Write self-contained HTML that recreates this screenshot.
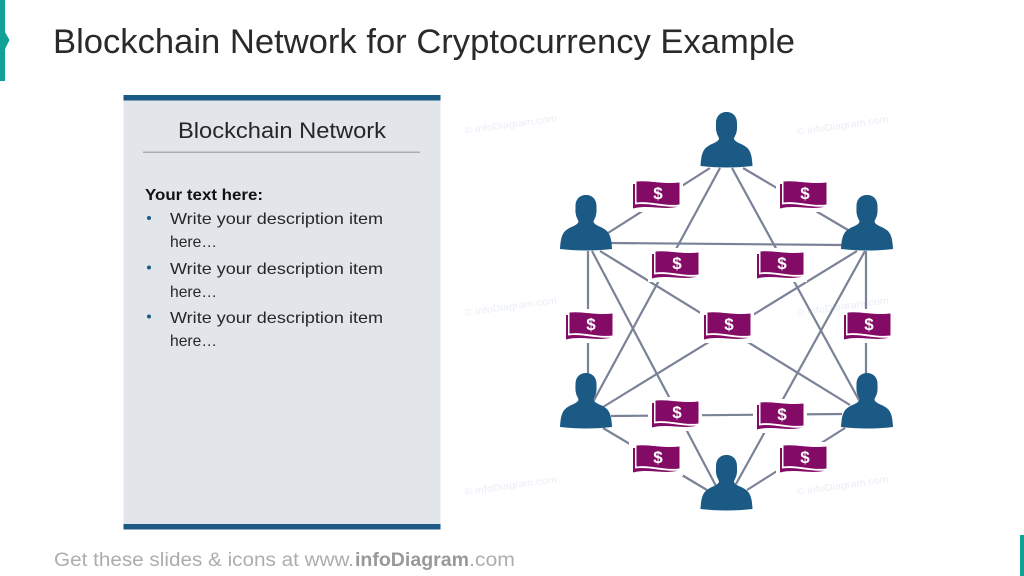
<!DOCTYPE html>
<html><head><meta charset="utf-8">
<style>
html,body{margin:0;padding:0;background:#fff}
svg{display:block}
text{font-family:"Liberation Sans",sans-serif}
</style></head>
<body>
<svg width="1024" height="576" viewBox="0 0 1024 576" xmlns="http://www.w3.org/2000/svg">
<defs>
<path id="p" d="M0 54 C0.500 45 1.500 38 7 34.500 C11 31.500 17 30.500 18.500 27 C18.500 25 16.500 23 16 20 C15.200 17 15.500 15 15.500 11 C15.500 4 20 0 26 0 C32 0 36.500 4 36.500 11 C36.500 15 36.800 17 36 20 C35.500 23 33.500 25 33.500 27 C35 30.500 41 31.500 45 34.500 C50.500 38 51.500 45 52 54 C35 56 17 56 0 54 Z" fill="#1b5a84"/>
<g id="b">
<rect x="-4" y="-3" width="54" height="34" fill="#fff"/>
<path d="M3.500 0.500 C16 -1 30 3.500 46.500 1.500 L46.500 23.500 C31 25.500 17 19.500 3.500 21.500 Z" fill="#830b66"/>
<path d="M0 3 L2 3 L2 23.500 C16 21.500 30 27 45 25.500 C31 29.500 16 23.500 0 27.500 Z" fill="#830b66"/>
<text x="25" y="18" font-size="17" font-weight="bold" fill="#fff" text-anchor="middle">$</text>
</g>
</defs>

<rect width="1024" height="576" fill="#fff"/>
<rect x="0" y="0" width="5" height="81" fill="#12a195"/>
<path d="M5 32 L9.500 40 L5 49 Z" fill="#12a195"/>
<rect x="1020" y="535" width="4" height="41" fill="#12a195"/>

<text x="53" y="53" font-size="34" fill="#2a2a2a" textLength="742" lengthAdjust="spacingAndGlyphs">Blockchain Network for Cryptocurrency Example</text>

<rect x="123.500" y="95" width="317" height="434" fill="#e2e5ea"/>
<rect x="123.500" y="95" width="317" height="5.500" fill="#1b5a84"/>
<rect x="123.500" y="524" width="317" height="5.500" fill="#1b5a84"/>
<text x="178" y="138" font-size="22" fill="#262626" textLength="208" lengthAdjust="spacingAndGlyphs">Blockchain Network</text>
<rect x="143" y="151.500" width="277" height="1.500" fill="#a9adb9"/>

<text x="145" y="200" font-size="16" font-weight="bold" fill="#111" textLength="118" lengthAdjust="spacingAndGlyphs">Your text here:</text>
<g fill="#262626" font-size="16">
<text x="170" y="224" textLength="213" lengthAdjust="spacingAndGlyphs">Write your description item</text>
<text x="170" y="247" textLength="47" lengthAdjust="spacingAndGlyphs">here…</text>
<text x="170" y="274" textLength="213" lengthAdjust="spacingAndGlyphs">Write your description item</text>
<text x="170" y="297" textLength="47" lengthAdjust="spacingAndGlyphs">here…</text>
<text x="170" y="323" textLength="213" lengthAdjust="spacingAndGlyphs">Write your description item</text>
<text x="170" y="346" textLength="47" lengthAdjust="spacingAndGlyphs">here…</text>
</g>
<g fill="#1b5a84">
<circle cx="149" cy="218" r="2"/>
<circle cx="149" cy="267.500" r="2"/>
<circle cx="149" cy="316.500" r="2"/>
</g>

<g fill="#adadad" font-size="19">
<text x="54" y="566" textLength="300" lengthAdjust="spacingAndGlyphs">Get these slides &amp; icons at www.</text>
<text x="355" y="566" font-weight="bold" fill="#999" textLength="114" lengthAdjust="spacingAndGlyphs">infoDiagram</text>
<text x="469" y="566" textLength="46" lengthAdjust="spacingAndGlyphs">.com</text>
</g>

<g font-size="9.500" fill="#e8edf5">
<text transform="translate(465,134) rotate(-8)" textLength="93" lengthAdjust="spacingAndGlyphs">© infoDiagram.com</text>
<text transform="translate(797,135) rotate(-8)" textLength="93" lengthAdjust="spacingAndGlyphs">© infoDiagram.com</text>
<text transform="translate(465,316) rotate(-8)" textLength="93" lengthAdjust="spacingAndGlyphs">© infoDiagram.com</text>
<text transform="translate(797,316) rotate(-8)" textLength="93" lengthAdjust="spacingAndGlyphs">© infoDiagram.com</text>
<text transform="translate(465,495) rotate(-8)" textLength="93" lengthAdjust="spacingAndGlyphs">© infoDiagram.com</text>
<text transform="translate(797,495) rotate(-8)" textLength="93" lengthAdjust="spacingAndGlyphs">© infoDiagram.com</text>
</g>

<g stroke="#7a8298" stroke-width="2.200" fill="none">
<line x1="710" y1="168" x2="608" y2="233"/>
<line x1="743" y1="168" x2="848" y2="230"/>
<line x1="720" y1="168" x2="593" y2="402"/>
<line x1="732" y1="168" x2="860" y2="402"/>
<line x1="611" y1="243" x2="842" y2="245"/>
<line x1="588" y1="251" x2="588" y2="375"/>
<line x1="600" y1="251" x2="850" y2="405"/>
<line x1="592" y1="251" x2="716" y2="486"/>
<line x1="857" y1="251" x2="603" y2="407"/>
<line x1="865" y1="251" x2="736" y2="484"/>
<line x1="866" y1="251" x2="866" y2="375"/>
<line x1="611" y1="416" x2="842" y2="414"/>
<line x1="603" y1="428" x2="707" y2="490"/>
<line x1="845" y1="428" x2="747" y2="490"/>
</g>

<use href="#p" x="700.500" y="112"/>
<use href="#p" x="560" y="195"/>
<use href="#p" x="841" y="195"/>
<use href="#p" x="560" y="373"/>
<use href="#p" x="841" y="373"/>
<use href="#p" x="700.500" y="455"/>

<use href="#b" x="633" y="181"/>
<use href="#b" x="780" y="181"/>
<use href="#b" x="652" y="251"/>
<use href="#b" x="757" y="251"/>
<use href="#b" x="566" y="312"/>
<use href="#b" x="704" y="312"/>
<use href="#b" x="844" y="312"/>
<use href="#b" x="652" y="400"/>
<use href="#b" x="757" y="402"/>
<use href="#b" x="633" y="445"/>
<use href="#b" x="780" y="445"/>
</svg>
</body></html>
